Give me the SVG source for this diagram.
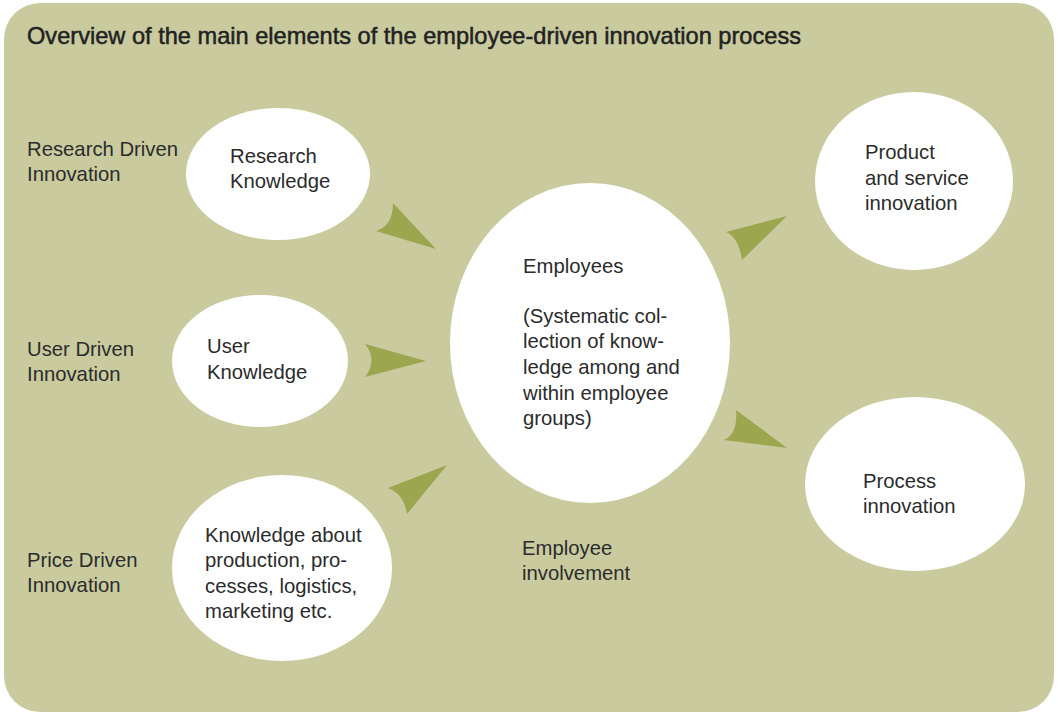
<svg xmlns="http://www.w3.org/2000/svg" width="1058" height="714" viewBox="0 0 1058 714">
<style>
.bg{fill:#c9cb9f}
.node{fill:#ffffff}
.t{font-family:"Liberation Sans",Arial,sans-serif;font-size:20.3px;fill:#2b2b2b}
.title{font-family:"Liberation Sans",Arial,sans-serif;font-size:24px;fill:#222222;stroke:#222222;stroke-width:0.5}
.arrow{fill:#9ca64f}
</style>
<rect class="bg" x="4" y="3" width="1050" height="709" rx="36" ry="36"/>
<text class="title" x="27" y="44" textLength="774" lengthAdjust="spacingAndGlyphs">Overview of the main elements of the employee-driven innovation process</text>

<g id="label-research-driven">
<text class="t" x="27" y="156">Research Driven</text>
<text class="t" x="27" y="181">Innovation</text>
</g>
<g id="label-user-driven">
<text class="t" x="27" y="356">User Driven</text>
<text class="t" x="27" y="381">Innovation</text>
</g>
<g id="label-price-driven">
<text class="t" x="27" y="567">Price Driven</text>
<text class="t" x="27" y="592">Innovation</text>
</g>
<g id="label-employee-involvement">
<text class="t" x="522" y="555">Employee</text>
<text class="t" x="522" y="580">involvement</text>
</g>

<g id="node-research-knowledge">
<ellipse class="node" cx="278" cy="174" rx="92" ry="66"/>
<text class="t" x="230" y="163">Research</text>
<text class="t" x="230" y="188">Knowledge</text>
</g>
<g id="node-user-knowledge">
<ellipse class="node" cx="260" cy="361" rx="88" ry="66"/>
<text class="t" x="207" y="353">User</text>
<text class="t" x="207" y="379">Knowledge</text>
</g>
<g id="node-knowledge-about">
<ellipse class="node" cx="282" cy="568" rx="110" ry="93"/>
<text class="t" x="205" y="542">Knowledge about</text>
<text class="t" x="205" y="567">production, pro-</text>
<text class="t" x="205" y="593">cesses, logistics,</text>
<text class="t" x="205" y="618">marketing etc.</text>
</g>
<g id="node-employees">
<ellipse class="node" cx="590" cy="343" rx="140" ry="160"/>
<text class="t" x="523" y="273">Employees</text>
<text class="t" x="523" y="323">(Systematic col-</text>
<text class="t" x="523" y="348">lection of know-</text>
<text class="t" x="523" y="374">ledge among and</text>
<text class="t" x="523" y="400">within employee</text>
<text class="t" x="523" y="425">groups)</text>
</g>
<g id="node-product">
<ellipse class="node" cx="914" cy="181" rx="99" ry="89"/>
<text class="t" x="865" y="159">Product</text>
<text class="t" x="865" y="185">and service</text>
<text class="t" x="865" y="210">innovation</text>
</g>
<g id="node-process">
<ellipse class="node" cx="915" cy="484" rx="110" ry="87"/>
<text class="t" x="863" y="488">Process</text>
<text class="t" x="863" y="513">innovation</text>
</g>

<g id="connectors">
<path class="arrow" d="M393,203 L436,249 L376,231 Q393,226 393,203 Z"/>
<path class="arrow" d="M365,344 L426,361 L365,377 Q378,360 365,344 Z"/>
<path class="arrow" d="M388,488 L447,465 L407,514 Q404,494 388,488 Z"/>
<path class="arrow" d="M726,232 L787,216 L742,260 Q739,238 726,232 Z"/>
<path class="arrow" d="M736,410 L787,448 L724,440 Q738,434 736,410 Z"/>
</g>
</svg>
